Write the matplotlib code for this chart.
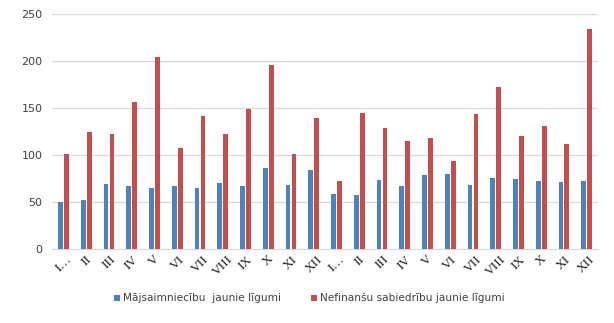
import matplotlib
matplotlib.use("Agg")
import matplotlib.pyplot as plt
import numpy as np

months = ["I…", "II", "III", "IV", "V", "VI", "VII", "VIII", "IX", "X", "XI", "XII",
          "I…", "II", "III", "IV", "V", "VI", "VII", "VIII", "IX", "X", "XI", "XII"]
households = [50, 52, 69, 67, 65, 67, 65, 70, 67, 86, 68, 84,
              59, 58, 74, 67, 79, 80, 68, 76, 75, 72, 71, 72]
companies = [101, 125, 122, 157, 204, 108, 142, 122, 149, 196, 101, 139,
             72, 145, 129, 115, 118, 94, 144, 172, 120, 131, 112, 234]

plt.rcParams["font.family"] = ["DejaVu Sans"]

fig = plt.figure(figsize=(6.14, 3.23), dpi=100)
ax = fig.add_axes([0.085, 0.229, 0.889, 0.727])

x = np.arange(len(months))
w = 0.21
ax.bar(x - w / 2 - 0.025, households, width=w, color="#4F81BD",
       label="Mājsaimniecību  jaunie līgumi", zorder=3)
ax.bar(x + w / 2 + 0.025, companies, width=w, color="#C0504D",
       label="Nefinanšu sabiedrību jaunie līgumi", zorder=3)

ax.set_xlim(-0.5, len(months) - 0.5)
ax.set_ylim(0, 250)
ax.set_yticks(range(0, 251, 50))
ax.yaxis.grid(True, color="#D9D9D9", linewidth=0.9, zorder=0)
ax.set_xticks(x)
ax.set_xticklabels(months, rotation=45, ha="center", fontsize=9.5,
                   family="Liberation Serif", color="#222222")
ax.tick_params(axis="y", labelsize=8, colors="#404040", length=0, pad=7)
ax.tick_params(axis="x", length=0, pad=3)
for s in ["top", "right", "left"]:
    ax.spines[s].set_visible(False)
ax.spines["bottom"].set_color("#D9D9D9")

ax.legend(loc="center", bbox_to_anchor=(0.504, 0.077), bbox_transform=fig.transFigure,
          ncol=2, frameon=False, fontsize=7.6, handlelength=0.5, handleheight=0.5,
          handletextpad=0.3, columnspacing=2.9, labelcolor="#404040")

fig.savefig("out.png", dpi=100)
